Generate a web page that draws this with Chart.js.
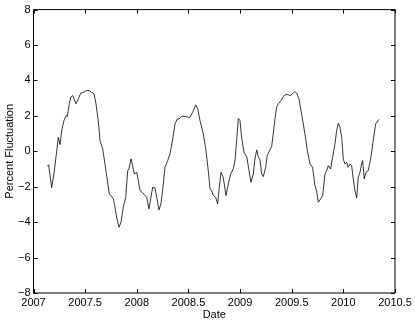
<!DOCTYPE html>
<html>
<head>
<meta charset="utf-8">
<script src="https://cdn.jsdelivr.net/npm/chart.js@4/dist/chart.umd.min.js"></script>
<style>
  html, body { margin: 0; padding: 0; background: #fff; }
  #wrap { width: 415px; height: 324px; }
</style>
</head>
<body>
<div id="wrap"><canvas id="chart" width="415" height="324"></canvas></div>
<script>
// Dates as decimal years
const dates = [
  2007.134, 2007.147, 2007.176, 2007.198, 2007.225, 2007.240, 2007.257, 2007.273, 2007.295, 2007.315,
  2007.327, 2007.347, 2007.360, 2007.379, 2007.392, 2007.411, 2007.434, 2007.457, 2007.482, 2007.515,
  2007.540, 2007.563, 2007.586, 2007.605, 2007.627, 2007.644, 2007.670, 2007.692, 2007.714, 2007.734,
  2007.750, 2007.773, 2007.789, 2007.805, 2007.828, 2007.847, 2007.869, 2007.893, 2007.912, 2007.924,
  2007.944, 2007.956, 2007.976, 2007.999, 2008.015, 2008.031, 2008.053, 2008.073, 2008.096, 2008.118,
  2008.137, 2008.154, 2008.176, 2008.193, 2008.215, 2008.234, 2008.257, 2008.273, 2008.299, 2008.321,
  2008.344, 2008.370, 2008.392, 2008.411, 2008.435, 2008.467, 2008.499, 2008.515, 2008.541, 2008.570,
  2008.590, 2008.612, 2008.644, 2008.670, 2008.692, 2008.709, 2008.725, 2008.741, 2008.764, 2008.783,
  2008.799, 2008.815, 2008.837, 2008.864, 2008.886, 2008.909, 2008.934, 2008.951, 2008.967, 2008.983,
  2008.999, 2009.015, 2009.038, 2009.064, 2009.079, 2009.105, 2009.128, 2009.144, 2009.161, 2009.176,
  2009.193, 2009.209, 2009.225, 2009.248, 2009.263, 2009.289, 2009.306, 2009.321, 2009.338, 2009.354,
  2009.370, 2009.396, 2009.418, 2009.441, 2009.467, 2009.483, 2009.505, 2009.531, 2009.548, 2009.570,
  2009.596, 2009.628, 2009.651, 2009.677, 2009.702, 2009.725, 2009.741, 2009.757, 2009.780, 2009.800,
  2009.822, 2009.839, 2009.854, 2009.877, 2009.896, 2009.919, 2009.935, 2009.951, 2009.967, 2009.984,
  2009.999, 2010.015, 2010.032, 2010.047, 2010.064, 2010.080, 2010.096, 2010.112, 2010.129, 2010.144,
  2010.161, 2010.177, 2010.187, 2010.202, 2010.219, 2010.241, 2010.267, 2010.289, 2010.313, 2010.345
];

const fluctuation = [
  -0.81, -0.77, -2.05, -1.28, 0.04, 0.79, 0.38, 1.17, 1.73, 2.02,
  1.96, 2.68, 3.05, 3.15, 2.96, 2.68, 2.96, 3.28, 3.33, 3.43,
  3.43, 3.33, 3.24, 2.68, 1.73, 0.60, 0.14, -0.71, -1.60, -2.41,
  -2.50, -2.69, -3.16, -3.73, -4.29, -4.01, -3.16, -2.60, -1.09, -1.00,
  -0.43, -0.71, -1.28, -1.19, -1.66, -2.22, -2.32, -2.45, -2.60, -3.25,
  -2.60, -2.03, -2.07, -2.60, -3.31, -2.97, -1.84, -0.90, -0.53, -0.15,
  0.55, 1.55, 1.83, 1.83, 1.98, 1.98, 1.92, 1.92, 2.20, 2.62,
  2.40, 1.73, 0.98, 0.04, -1.09, -2.12, -2.22, -2.50, -2.60, -2.97,
  -2.03, -1.19, -1.47, -2.50, -1.84, -1.28, -1.00, -0.50, 0.60, 1.85,
  1.75, 0.79, -0.06, -0.30, -0.81, -1.75, -1.28, -0.43, 0.08, -0.30,
  -0.49, -1.28, -1.43, -0.90, -0.24, 0.08, 0.27, 0.98, 1.83, 2.49,
  2.68, 2.86, 3.09, 3.20, 3.20, 3.13, 3.24, 3.37, 3.28, 2.96,
  2.11, 0.98, 0.04, -0.71, -0.90, -1.94, -2.22, -2.88, -2.69, -2.50,
  -1.28, -1.09, -0.81, -1.00, -0.34, 0.42, 1.17, 1.58, 1.36, 0.79,
  -0.43, -0.71, -0.62, -0.90, -0.71, -0.81, -1.56, -2.22, -2.63, -1.47,
  -1.19, -0.71, -0.53, -1.56, -1.19, -1.09, -0.34, 0.60, 1.55, 1.80
];

// Axis ranges and ticks
const xMin = 2007, xMax = 2010.5, xStep = 0.5;
const yMin = -8, yMax = 8, yStep = 2;

const FONT = "'Liberation Sans', Arial, Helvetica, sans-serif";

// Matlab style frame with inward ticks on all four sides
const framePlugin = {
  id: "frame",
  afterDraw(chart) {
    const ctx = chart.ctx;
    const a = chart.chartArea;
    const xs = chart.scales.x;
    const ys = chart.scales.y;
    const len = 4;
    ctx.save();
    ctx.strokeStyle = "#000";
    ctx.lineWidth = 1;
    ctx.beginPath();
    ctx.rect(a.left, a.top, a.right - a.left, a.bottom - a.top);
    xs.ticks.forEach(t => {
      const px = Math.round(xs.getPixelForValue(t.value)) + 0.5;
      ctx.moveTo(px, a.bottom); ctx.lineTo(px, a.bottom - len);
      ctx.moveTo(px, a.top); ctx.lineTo(px, a.top + len);
    });
    ys.ticks.forEach(t => {
      const py = Math.round(ys.getPixelForValue(t.value)) + 0.5;
      ctx.moveTo(a.left, py); ctx.lineTo(a.left + len, py);
      ctx.moveTo(a.right, py); ctx.lineTo(a.right - len, py);
    });
    ctx.stroke();
    ctx.restore();
  }
};

const points = dates.map((d, i) => ({ x: d, y: fluctuation[i] }));

new Chart(document.getElementById("chart"), {
  type: "line",
  data: {
    datasets: [{
      data: points,
      borderColor: "#000",
      borderWidth: 0.8,
      pointRadius: 0,
      tension: 0,
      fill: false
    }]
  },
  options: {
    responsive: false,
    animation: false,
    layout: { padding: { top: 9.5, right: 20, left: 0, bottom: 0 } },
    plugins: { legend: { display: false }, tooltip: { enabled: false } },
    scales: {
      x: {
        type: "linear",
        min: xMin, max: xMax,
        grid: { display: false, drawTicks: false },
        border: { display: false },
        afterFit(scale) { scale.height = 31; },
        ticks: {
          stepSize: xStep, autoSkip: false, maxRotation: 0, padding: 3,
          color: "#000", font: { family: FONT, size: 11 },
          callback: v => String(v)
        },
        title: {
          display: true, text: "Date", color: "#000",
          font: { family: FONT, size: 11 }, padding: { top: 0, bottom: 2.5 }
        }
      },
      y: {
        min: yMin, max: yMax,
        grid: { display: false, drawTicks: false },
        border: { display: false },
        afterFit(scale) { scale.width = 33.5; },
        ticks: {
          stepSize: yStep, autoSkip: false, padding: 3,
          color: "#000", font: { family: FONT, size: 11 },
          callback: v => (v < 0 ? "\u2212" + Math.abs(v) : String(v))
        },
        title: {
          display: true, text: "Percent Fluctuation", color: "#000",
          font: { family: FONT, size: 11 }, padding: { top: 3.5, bottom: 0 }
        }
      }
    }
  },
  plugins: [framePlugin]
});
</script>
</body>
</html>
